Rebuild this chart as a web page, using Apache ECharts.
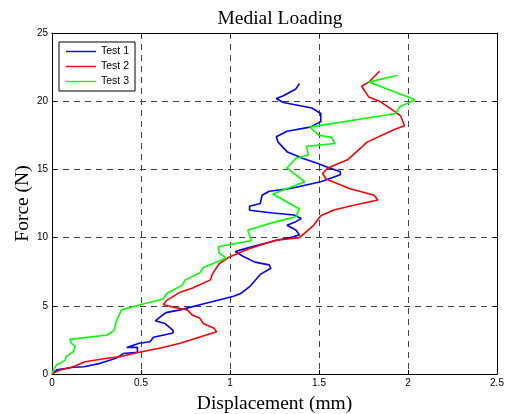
<!DOCTYPE html>
<html>
<head>
<meta charset="utf-8">
<script src="https://cdn.jsdelivr.net/npm/echarts@6/dist/echarts.min.js"></script>
<style>
    html, body { margin: 0; padding: 0; background: #fff; }
    #chart { width: 505px; height: 414px; }
</style>
</head>
<body>
<div id="chart"></div>
<script>
// data: [displacement (mm), force (N)]
var seriesNames = ['Test 1', 'Test 2', 'Test 3'];
var seriesColors = ['#0000ff', '#ff0000', '#00ff00'];

var test1 = [[0,0],[0.026,0.3],[0.12,0.5],[0.18,0.53],[0.27,0.78],[0.36,1.15],[0.40,1.5],[0.48,1.6],[0.48,1.95],
    [0.42,1.95],[0.49,2.25],[0.55,2.37],[0.57,2.7],[0.68,3.0],[0.68,3.2],[0.635,3.7],[0.58,3.9],[0.61,4.2],[0.64,4.5],
    [0.72,4.7],[0.87,5.2],[0.96,5.5],[1.02,5.7],[1.06,5.9],[1.11,6.4],[1.17,7.3],[1.23,7.75],[1.22,8.0],[1.14,8.2],
    [1.07,8.65],[1.03,8.97],[1.06,9.1],[1.26,9.8],[1.34,10.0],[1.39,10.2],[1.37,10.56],[1.32,10.9],[1.37,11.17],
    [1.40,11.4],[1.36,11.66],[1.24,11.8],[1.11,12.0],[1.11,12.3],[1.17,12.5],[1.18,13.1],[1.22,13.4],[1.34,13.6],
    [1.51,14.1],[1.62,14.6],[1.62,14.83],[1.54,15.2],[1.49,15.45],[1.41,15.8],[1.32,16.3],[1.27,17.0],[1.26,17.4],
    [1.32,17.8],[1.45,18.1],[1.51,18.5],[1.51,19.1],[1.46,19.5],[1.30,19.9],[1.26,20.2],[1.30,20.4],[1.37,20.9],[1.39,21.3]];

var test2 = [[0,0],[0.045,0.3],[0.12,0.53],[0.185,0.9],[0.31,1.15],[0.38,1.27],[0.49,1.6],[0.61,1.9],[0.72,2.25],
    [0.925,3.1],[0.91,3.35],[0.85,3.7],[0.83,4.1],[0.79,4.3],[0.76,4.7],[0.68,4.9],[0.625,5.1],[0.645,5.4],[0.72,6.0],
    [0.79,6.3],[0.89,6.9],[0.90,7.3],[0.94,8.1],[1.0,8.6],[1.11,9.2],[1.26,9.8],[1.39,10.0],[1.47,10.9],[1.51,11.6],
    [1.58,12.0],[1.67,12.3],[1.83,12.75],[1.81,13.1],[1.67,13.6],[1.54,14.3],[1.52,14.7],[1.55,15.1],[1.66,15.7],
    [1.72,16.4],[1.77,17.0],[1.92,17.9],[1.98,18.2],[1.96,18.9],[1.93,19.2],[1.84,20.0],[1.78,20.3],[1.74,21.1],
    [1.78,21.4],[1.84,22.2]];

var test3 = [[0,0],[0.008,0.3],[0.026,0.66],[0.073,1.0],[0.08,1.27],[0.12,1.63],[0.13,2.05],[0.11,2.25],[0.10,2.54],
    [0.31,2.86],[0.35,3.2],[0.36,3.8],[0.39,4.7],[0.49,5.06],[0.625,5.5],[0.645,5.9],[0.73,6.5],[0.75,6.9],[0.83,7.4],
    [0.85,7.8],[0.98,8.5],[0.94,8.85],[0.935,9.33],[1.0,9.5],[1.12,9.77],[1.10,10.56],[1.26,11.17],[1.37,11.53],
    [1.39,12.1],[1.24,13.2],[1.34,13.7],[1.42,14.1],[1.32,15.1],[1.37,15.8],[1.44,16.05],[1.43,16.7],[1.59,16.9],
    [1.57,17.35],[1.50,17.5],[1.45,18.1],[1.93,19.1],[1.955,19.6],[2.04,20.1],[1.78,21.4],[1.94,21.9]];

var xTicks = [0, 0.5, 1, 1.5, 2, 2.5];
var yTicks = [0, 5, 10, 15, 20, 25];

var chart = echarts.init(document.getElementById('chart'));

var serifFont = '"Liberation Serif", "DejaVu Serif", serif';
var sansFont = '"Liberation Sans", Arial, sans-serif';

var gridLine = {show: true, lineStyle: {color: '#444', width: 1, type: [6, 5]}};
var boxLine = {show: true, onZero: false, lineStyle: {color: '#000', width: 1}};
var tick = {show: true, inside: true, length: 4, lineStyle: {color: '#000'}};

function seriesOf(i, data) {
    return {
        name: seriesNames[i],
        type: 'line',
        data: data,
        showSymbol: false,
        symbol: 'none',
        animation: false,
        lineStyle: {color: seriesColors[i], width: 1.6},
        itemStyle: {color: seriesColors[i]},
        z: 3 + i
    };
}

var option = {
    backgroundColor: '#fff',
    animation: false,
    title: {
        text: 'Medial Loading',
        left: 275,
        top: 4,
        textAlign: 'center',
        textStyle: {fontFamily: serifFont, fontSize: 19.5, fontWeight: 'normal', color: '#000'}
    },
    legend: {
        orient: 'vertical',
        left: 59,
        top: 42,
        padding: [4, 6, 4, 7],
        itemGap: 4,
        itemWidth: 30,
        itemHeight: 10,
        backgroundColor: '#fff',
        borderColor: '#000',
        borderWidth: 1,
        borderRadius: 0,
        data: seriesNames.map(function (n, i) {
            return {name: n, icon: 'path://M0,4.3 L30,4.3 L30,5.7 L0,5.7 Z', itemStyle: {color: seriesColors[i]}};
        }),
        textStyle: {fontFamily: sansFont, fontSize: 10.5, color: '#000'}
    },
    grid: {left: 52, right: 8, top: 33, bottom: 40, containLabel: false, outerBoundsMode: 'none'},
    xAxis: [
        {
            type: 'value',
            min: xTicks[0],
            max: xTicks[xTicks.length - 1],
            interval: 0.5,
            name: 'Displacement (mm)',
            nameLocation: 'middle',
            nameGap: 20,
            nameMoveOverlap: false,
            nameTextStyle: {fontFamily: serifFont, fontSize: 19.5, color: '#000'},
            axisLine: boxLine,
            axisTick: tick,
            splitLine: gridLine,
            axisLabel: {fontFamily: sansFont, fontSize: 10, color: '#000', margin: 4}
        },
        {
            type: 'value',
            position: 'top',
            min: xTicks[0],
            max: xTicks[xTicks.length - 1],
            interval: 0.5,
            axisLine: boxLine,
            axisTick: tick,
            axisLabel: {show: false},
            splitLine: {show: false}
        }
    ],
    yAxis: [
        {
            type: 'value',
            min: yTicks[0],
            max: yTicks[yTicks.length - 1],
            interval: 5,
            name: 'Force (N)',
            nameLocation: 'middle',
            nameGap: 19,
            nameMoveOverlap: false,
            nameTextStyle: {fontFamily: serifFont, fontSize: 19.5, color: '#000'},
            axisLine: boxLine,
            axisTick: tick,
            splitLine: gridLine,
            axisLabel: {fontFamily: sansFont, fontSize: 10, color: '#000', margin: 4}
        },
        {
            type: 'value',
            position: 'right',
            min: yTicks[0],
            max: yTicks[yTicks.length - 1],
            interval: 5,
            axisLine: boxLine,
            axisTick: tick,
            axisLabel: {show: false},
            splitLine: {show: false}
        }
    ],
    series: [seriesOf(0, test1), seriesOf(1, test2), seriesOf(2, test3)]
};

chart.setOption(option);
</script>
</body>
</html>
